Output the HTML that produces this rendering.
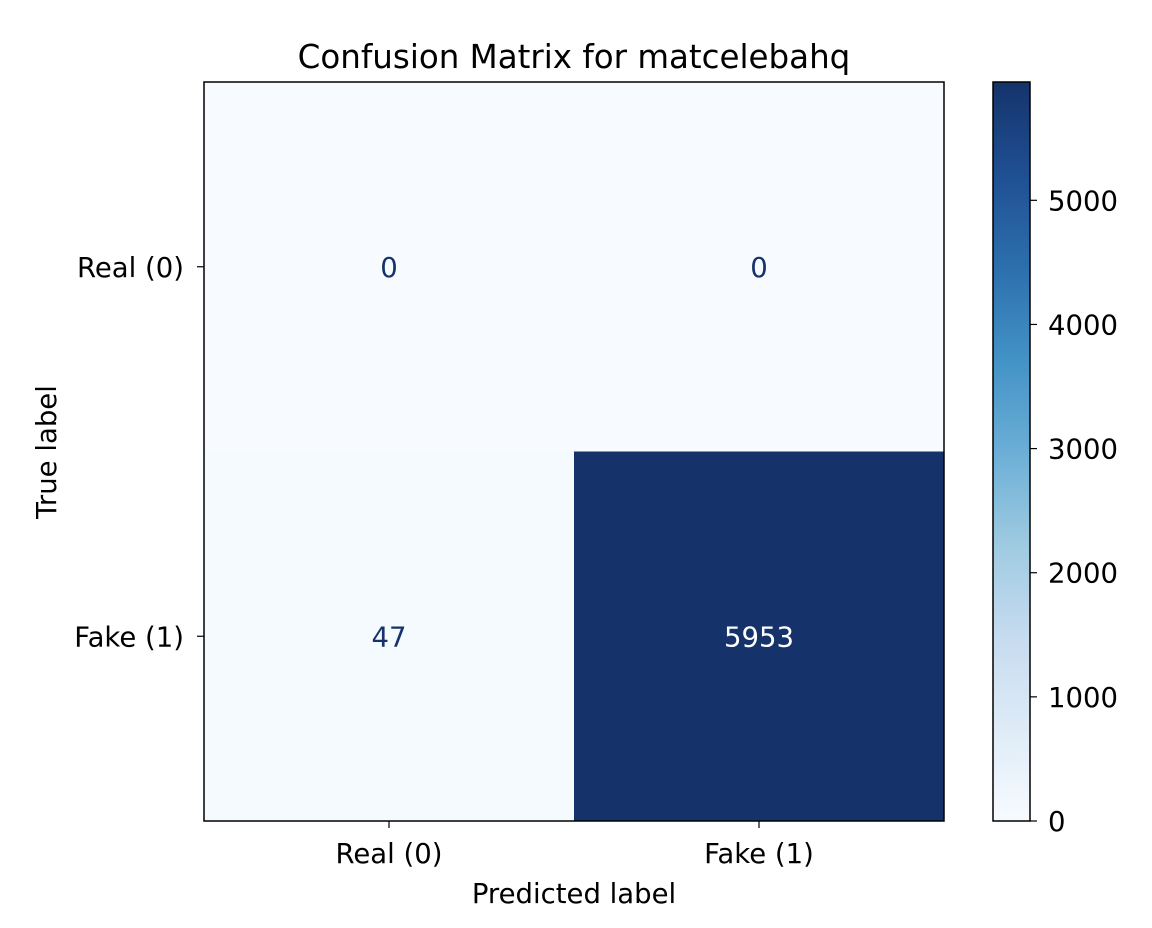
<!DOCTYPE html>
<html><head><meta charset="utf-8">
<style>
html,body{margin:0;padding:0;background:#fff;}
svg{display:block;font-family:"DejaVu Sans","Liberation Sans",sans-serif;}
</style></head>
<body>
<svg id="chart" width="1152" height="928" viewBox="0 0 1152 928" xmlns="http://www.w3.org/2000/svg">
<defs>
<linearGradient id="blues" x1="0" y1="1" x2="0" y2="0">
<stop offset="0" stop-color="#f7fbff"/><stop offset="0.125" stop-color="#deebf7"/>
<stop offset="0.25" stop-color="#c6dbef"/><stop offset="0.375" stop-color="#9ecae1"/>
<stop offset="0.5" stop-color="#6baed6"/><stop offset="0.625" stop-color="#4292c6"/>
<stop offset="0.75" stop-color="#2c6fad"/><stop offset="0.875" stop-color="#1f4f93"/>
<stop offset="1" stop-color="#15336a"/>
</linearGradient>
</defs>
<text x="574" y="68" font-size="32.5" text-anchor="middle" fill="#000">Confusion Matrix for matcelebahq</text>
<g id="cells"></g>
<rect x="204" y="82" width="740" height="739" fill="none" stroke="#000" stroke-width="1.5"/>
<g id="axes"></g>
<text x="574" y="903" font-size="27.5" text-anchor="middle">Predicted label</text>
<text transform="translate(56,452) rotate(-90)" font-size="27.5" text-anchor="middle">True label</text>
<rect x="993" y="82" width="37" height="739" fill="url(#blues)"/>
<rect x="993" y="82" width="37" height="739" fill="none" stroke="#000" stroke-width="1.5"/>
<g id="cbticks"></g>
</svg>
<script>
const categories = ["Real (0)", "Fake (1)"];
const matrixValues = [[0, 0], [47, 5953]];
const colorbarTicks = [0, 1000, 2000, 3000, 4000, 5000];

const NS = "http://www.w3.org/2000/svg";
const px0 = 204, py0 = 82, pw = 740, ph = 739;
const cbY0 = 82, cbH = 739, cbX = 1030;
const FS = 27.5;
const vmax = Math.max(...matrixValues.flat());
const vmin = Math.min(...matrixValues.flat());
const stops = ["#f7fbff","#deebf7","#c6dbef","#9ecae1","#6baed6","#4292c6","#2c6fad","#1f4f93","#15336a"];
function hex(c){return [1,3,5].map(i=>parseInt(c.substr(i,2),16));}
function blues(t){
  t=Math.max(0,Math.min(1,t));
  const p=t*(stops.length-1), i=Math.min(Math.floor(p),stops.length-2), f=p-i;
  const a=hex(stops[i]), b=hex(stops[i+1]);
  return "rgb("+a.map((v,k)=>Math.round(v+(b[k]-v)*f)).join(",")+")";
}
function el(tag, attrs, parent){
  const e=document.createElementNS(NS,tag);
  for(const k in attrs) e.setAttribute(k,attrs[k]);
  parent.appendChild(e); return e;
}
const n = categories.length;
const cw = pw/n, chh = ph/n;
const xC = i => px0 + cw*(i+0.5);
const yC = j => py0 + chh*(j+0.5);
const cbYv = v => cbY0 + cbH - (v - vmin)/(vmax - vmin)*cbH;
const cells = document.getElementById("cells");
const axes = document.getElementById("axes");
for(let r=0;r<n;r++){
  for(let c=0;c<n;c++){
    const v = matrixValues[r][c];
    const t = (v-vmin)/(vmax-vmin);
    const rect = el("rect",{x:px0+cw*c,y:py0+chh*r,width:cw+0.5,height:chh+0.5,fill:blues(t)},cells);
    
    
    const txt = el("text",{x:xC(c),y:yC(r)+10,"font-size":FS,"text-anchor":"middle",fill:t>0.5?"#ffffff":"#15336a"},cells);
    txt.textContent = String(v);
    
    
  }
}
categories.forEach((lab,i)=>{
  const tx = el("line",{x1:xC(i),x2:xC(i),y1:py0+ph,y2:py0+ph+7,stroke:"#000","stroke-width":1.2},axes);
  
  
  const lx = el("text",{x:xC(i),y:py0+ph+42,"font-size":FS,"text-anchor":"middle"},axes);
  lx.textContent = lab;
  
  
  const ty = el("line",{x1:px0-7,x2:px0,y1:yC(i),y2:yC(i),stroke:"#000","stroke-width":1.2},axes);
  
  
  const ly = el("text",{x:px0-20,y:yC(i)+10,"font-size":FS,"text-anchor":"end"},axes);
  ly.textContent = lab;
  
  
});
const cbt = document.getElementById("cbticks");
colorbarTicks.forEach(v=>{
  const y = cbYv(v);
  const t = el("line",{x1:cbX,x2:cbX+7,y1:y,y2:y,stroke:"#000","stroke-width":1.2},cbt);
  
  
  const l = el("text",{x:cbX+18,y:y+10,"font-size":FS},cbt);
  l.textContent = String(v);
  
  
});
</script>
</body></html>
